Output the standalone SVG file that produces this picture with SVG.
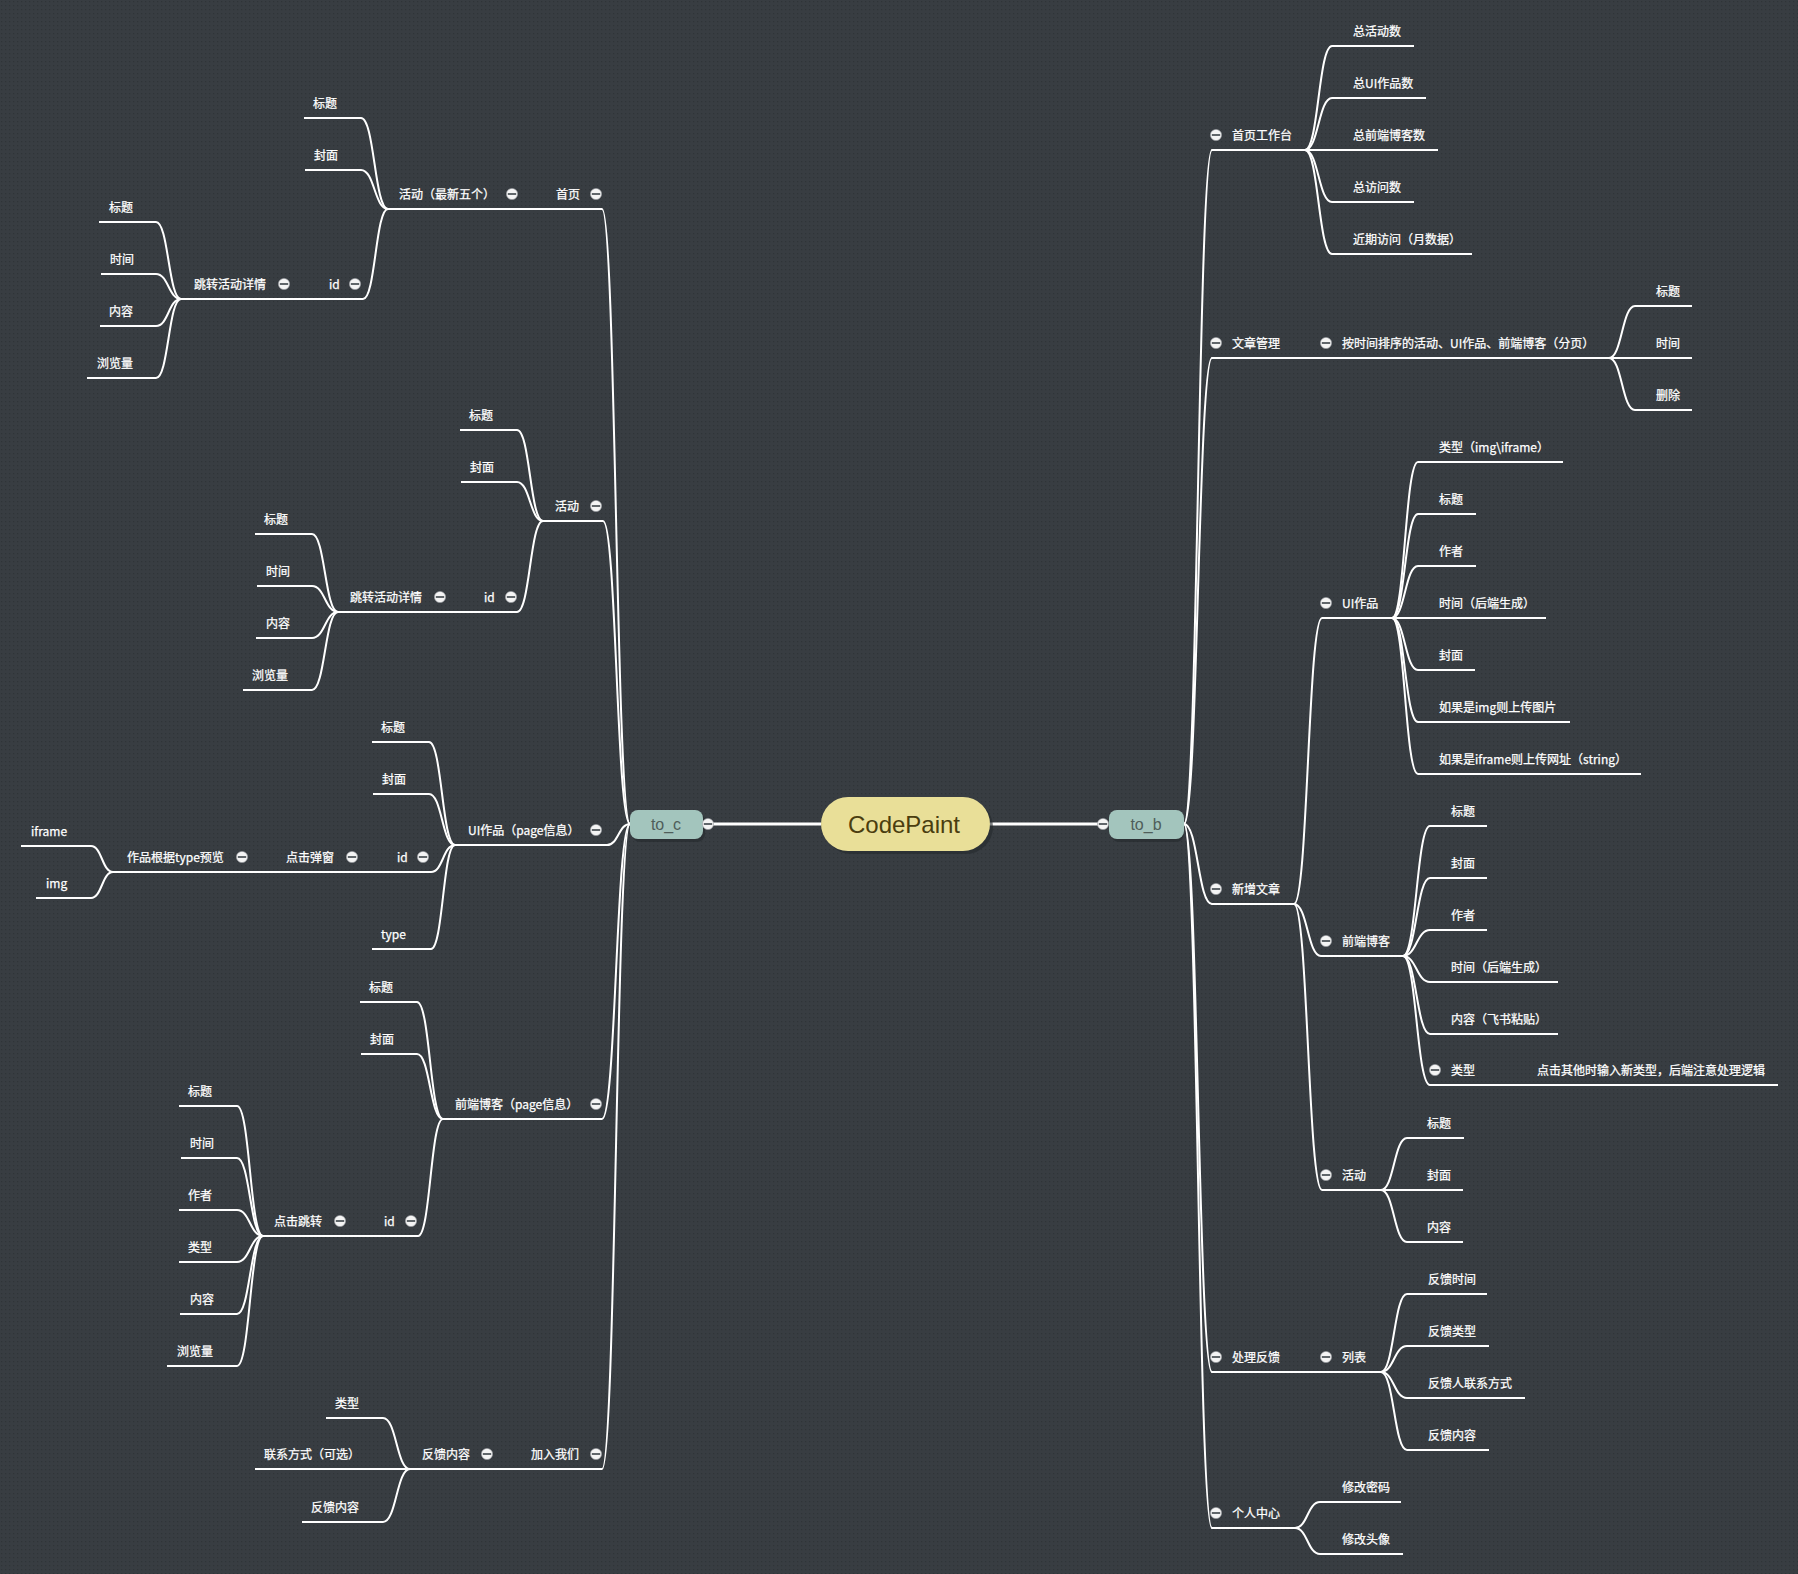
<svg xmlns="http://www.w3.org/2000/svg" xmlns:xlink="http://www.w3.org/1999/xlink" width="1798" height="1574" viewBox="0 0 1798 1574">
<defs>
<pattern id="dots" width="4" height="4" patternUnits="userSpaceOnUse">
<rect width="4" height="4" fill="#383d42"/>
<rect x="1" y="1" width="1.3" height="1.3" fill="#2f3438"/>
</pattern>
<g id="mn"><circle r="5.6" fill="#f4f4f4" stroke="#9a9ea2" stroke-width="0.6"/><line x1="-4.2" y1="0" x2="4.2" y2="0" stroke="#50565b" stroke-width="1.8"/></g>
<style>
.t{font-family:"Noto Sans CJK SC","Noto Sans",sans-serif;font-size:12px;fill:#ffffff;stroke:#ffffff;stroke-width:0.25}
.u{stroke:#ffffff;stroke-width:2;fill:none;stroke-linecap:butt}
.c{stroke:#ffffff;stroke-width:2;fill:none}
</style>
</defs>
<rect width="1798" height="1574" fill="url(#dots)"/>

<g id="connectors" class="c">
<path d="M708 824H821"  stroke-width="3"/>
<path d="M990 824H1103" stroke-width="3"/>
<path d="M630 824C616 824 616 209 602 209"/>
<path d="M630 824C616.5 824 616.5 521 603 521"/>
<path d="M630 824C618.5 824 618.5 845 607 845"/>
<path d="M630 824C616 824 616 1119 602 1119"/>
<path d="M630 824C616 824 616 1469 602 1469"/>
<path d="M388 209C374.5 209 374.5 118 361 118"/>
<path d="M388 209C374.5 209 374.5 170 361 170"/>
<path d="M388 209C375.5 209 375.5 299 363 299"/>
<path d="M181 299C168.5 299 168.5 222 156 222"/>
<path d="M181 299C168.5 299 168.5 274 156 274"/>
<path d="M181 299C168.5 299 168.5 326 156 326"/>
<path d="M181 299C168.5 299 168.5 378 156 378"/>
<path d="M543 521C530 521 530 430 517 430"/>
<path d="M543 521C530 521 530 482 517 482"/>
<path d="M543 521C530 521 530 612 517 612"/>
<path d="M338 612C325 612 325 534 312 534"/>
<path d="M338 612C325 612 325 586 312 586"/>
<path d="M338 612C325 612 325 638 312 638"/>
<path d="M338 612C325 612 325 690 312 690"/>
<path d="M455 845C442 845 442 742 429 742"/>
<path d="M455 845C442 845 442 794 429 794"/>
<path d="M455 845C443 845 443 872 431 872"/>
<path d="M455 845C443 845 443 949 431 949"/>
<path d="M113 872C102 872 102 846 91 846"/>
<path d="M113 872C102 872 102 898 91 898"/>
<path d="M443 1119C430 1119 430 1002 417 1002"/>
<path d="M443 1119C430 1119 430 1054 417 1054"/>
<path d="M443 1119C430.5 1119 430.5 1236 418 1236"/>
<path d="M263 1236C250 1236 250 1106 237 1106"/>
<path d="M263 1236C250 1236 250 1158 237 1158"/>
<path d="M263 1236C250 1236 250 1210 237 1210"/>
<path d="M263 1236C250 1236 250 1262 237 1262"/>
<path d="M263 1236C250 1236 250 1314 237 1314"/>
<path d="M263 1236C250 1236 250 1366 237 1366"/>
<path d="M410 1469C396.5 1469 396.5 1418 383 1418"/>
<path d="M410 1469C396.5 1469 396.5 1522 383 1522"/>
<path d="M1184 824C1198 824 1198 150 1212 150"/>
<path d="M1184 824C1198 824 1198 358 1212 358"/>
<path d="M1184 824C1198 824 1198 904 1212 904"/>
<path d="M1184 824C1198 824 1198 1372 1212 1372"/>
<path d="M1184 824C1198 824 1198 1528 1212 1528"/>
<path d="M1305 150C1318.5 150 1318.5 46 1332 46"/>
<path d="M1305 150C1318.5 150 1318.5 98 1332 98"/>
<path d="M1305 150C1318.5 150 1318.5 202 1332 202"/>
<path d="M1305 150C1318.5 150 1318.5 254 1332 254"/>
<path d="M1609 358C1622 358 1622 306 1635 306"/>
<path d="M1609 358C1622 358 1622 410 1635 410"/>
<path d="M1294 904C1308 904 1308 618 1322 618"/>
<path d="M1294 904C1307.5 904 1307.5 956 1321 956"/>
<path d="M1294 904C1308 904 1308 1190 1322 1190"/>
<path d="M1392 618C1405 618 1405 462 1418 462"/>
<path d="M1392 618C1405 618 1405 514 1418 514"/>
<path d="M1392 618C1405 618 1405 566 1418 566"/>
<path d="M1392 618C1405 618 1405 670 1418 670"/>
<path d="M1392 618C1405 618 1405 722 1418 722"/>
<path d="M1392 618C1405 618 1405 774 1418 774"/>
<path d="M1403 956C1416.5 956 1416.5 826 1430 826"/>
<path d="M1403 956C1416.5 956 1416.5 878 1430 878"/>
<path d="M1403 956C1416.5 956 1416.5 930 1430 930"/>
<path d="M1403 956C1416.5 956 1416.5 982 1430 982"/>
<path d="M1403 956C1416.5 956 1416.5 1034 1430 1034"/>
<path d="M1403 956C1416.5 956 1416.5 1085 1430 1085"/>
<path d="M1381 1190C1394 1190 1394 1138 1407 1138"/>
<path d="M1381 1190C1394 1190 1394 1242 1407 1242"/>
<path d="M1381 1372C1394 1372 1394 1294 1407 1294"/>
<path d="M1381 1372C1394 1372 1394 1346 1407 1346"/>
<path d="M1381 1372C1394 1372 1394 1398 1407 1398"/>
<path d="M1381 1372C1394 1372 1394 1450 1407 1450"/>
<path d="M1295 1528C1307.5 1528 1307.5 1502 1320 1502"/>
<path d="M1295 1528C1307.5 1528 1307.5 1554 1320 1554"/>
</g>

<g id="root">
<rect x="824" y="800" width="169" height="54" rx="27" fill="#24292d" opacity="0.6"/>
<rect x="821" y="797" width="169" height="54" rx="27" fill="#e9df98"/>
<text x="904" y="832.5" text-anchor="middle" font-family="Liberation Sans, Arial, sans-serif" font-size="24" fill="#4a3d0f">CodePaint</text>
</g>
<g id="to_c">
<rect x="632" y="813" width="73" height="29" rx="8" fill="#24292d" opacity="0.6"/>
<rect x="630" y="810" width="73" height="29" rx="8" fill="#a3c5bd"/>
<text x="666" y="829.5" text-anchor="middle" font-family="Liberation Sans, Arial, sans-serif" font-size="16" fill="#4f5e5a">to_c</text>
<use href="#mn" x="708" y="824"/>
</g>
<g id="to_b">
<rect x="1111" y="813" width="73" height="29" rx="8" fill="#24292d" opacity="0.6"/>
<rect x="1109" y="810" width="75" height="29" rx="8" fill="#a3c5bd"/>
<text x="1146" y="829.5" text-anchor="middle" font-family="Liberation Sans, Arial, sans-serif" font-size="16" fill="#4f5e5a">to_b</text>
<use href="#mn" x="1103" y="824"/>
</g>

<g id="n-shouye"><path class="u" d="M540 209H602"/><text class="t" x="556" y="199">首页</text><use href="#mn" x="596" y="194"/></g>
<g id="n-hd5"><path class="u" d="M388 209H540"/><text class="t" x="399" y="199">活动（最新五个）</text><use href="#mn" x="512" y="194"/></g>
<g id="n-hd5-bt"><path class="u" d="M304 118H361"/><text class="t" x="313" y="108">标题</text></g>
<g id="n-hd5-fm"><path class="u" d="M305 170H361"/><text class="t" x="314" y="160">封面</text></g>
<g id="n-hd5-id"><path class="u" d="M300 299H363"/><text class="t" x="329" y="289">id</text><use href="#mn" x="355" y="284"/></g>
<g id="n-hd5-tz"><path class="u" d="M181 299H300"/><text class="t" x="194" y="289">跳转活动详情</text><use href="#mn" x="284" y="284"/></g>
<g id="n-hd5-tz-1"><path class="u" d="M99 222H156"/><text class="t" x="109" y="212">标题</text></g>
<g id="n-hd5-tz-2"><path class="u" d="M101 274H156"/><text class="t" x="110" y="264">时间</text></g>
<g id="n-hd5-tz-3"><path class="u" d="M100 326H156"/><text class="t" x="109" y="316">内容</text></g>
<g id="n-hd5-tz-4"><path class="u" d="M87 378H156"/><text class="t" x="97" y="368">浏览量</text></g>

<g id="n-hd"><path class="u" d="M543 521H603"/><text class="t" x="555" y="511">活动</text><use href="#mn" x="596" y="506"/></g>
<g id="n-hd-bt"><path class="u" d="M460 430H517"/><text class="t" x="469" y="420">标题</text></g>
<g id="n-hd-fm"><path class="u" d="M461 482H517"/><text class="t" x="470" y="472">封面</text></g>
<g id="n-hd-id"><path class="u" d="M460 612H517"/><text class="t" x="484" y="602">id</text><use href="#mn" x="511" y="597"/></g>
<g id="n-hd-tz"><path class="u" d="M338 612H460"/><text class="t" x="350" y="602">跳转活动详情</text><use href="#mn" x="440" y="597"/></g>
<g id="n-hd-tz-1"><path class="u" d="M255 534H312"/><text class="t" x="264" y="524">标题</text></g>
<g id="n-hd-tz-2"><path class="u" d="M257 586H312"/><text class="t" x="266" y="576">时间</text></g>
<g id="n-hd-tz-3"><path class="u" d="M256 638H312"/><text class="t" x="266" y="628">内容</text></g>
<g id="n-hd-tz-4"><path class="u" d="M243 690H312"/><text class="t" x="252" y="680">浏览量</text></g>

<g id="n-ui"><path class="u" d="M455 845H607"/><text class="t" x="468" y="835">UI作品（page信息）</text><use href="#mn" x="596" y="830"/></g>
<g id="n-ui-bt"><path class="u" d="M372 742H429"/><text class="t" x="381" y="732">标题</text></g>
<g id="n-ui-fm"><path class="u" d="M373 794H429"/><text class="t" x="382" y="784">封面</text></g>
<g id="n-ui-id"><path class="u" d="M385 872H431"/><text class="t" x="397" y="862">id</text><use href="#mn" x="423" y="857"/></g>
<g id="n-ui-tc"><path class="u" d="M265 872H385"/><text class="t" x="286" y="862">点击弹窗</text><use href="#mn" x="352" y="857"/></g>
<g id="n-ui-yl"><path class="u" d="M113 872H265"/><text class="t" x="127" y="862">作品根据type预览</text><use href="#mn" x="242" y="857"/></g>
<g id="n-ui-iframe"><path class="u" d="M21 846H91"/><text class="t" x="31" y="836">iframe</text></g>
<g id="n-ui-img"><path class="u" d="M36 898H91"/><text class="t" x="46" y="888">img</text></g>
<g id="n-ui-type"><path class="u" d="M372 949H431"/><text class="t" x="381" y="939">type</text></g>

<g id="n-blog"><path class="u" d="M443 1119H602"/><text class="t" x="455" y="1109">前端博客（page信息）</text><use href="#mn" x="596" y="1104"/></g>
<g id="n-blog-bt"><path class="u" d="M360 1002H417"/><text class="t" x="369" y="992">标题</text></g>
<g id="n-blog-fm"><path class="u" d="M361 1054H417"/><text class="t" x="370" y="1044">封面</text></g>
<g id="n-blog-id"><path class="u" d="M370 1236H418"/><text class="t" x="384" y="1226">id</text><use href="#mn" x="411" y="1221"/></g>
<g id="n-blog-tz"><path class="u" d="M263 1236H370"/><text class="t" x="274" y="1226">点击跳转</text><use href="#mn" x="340" y="1221"/></g>
<g id="n-blog-tz-1"><path class="u" d="M179 1106H237"/><text class="t" x="188" y="1096">标题</text></g>
<g id="n-blog-tz-2"><path class="u" d="M181 1158H237"/><text class="t" x="190" y="1148">时间</text></g>
<g id="n-blog-tz-3"><path class="u" d="M179 1210H237"/><text class="t" x="188" y="1200">作者</text></g>
<g id="n-blog-tz-4"><path class="u" d="M179 1262H237"/><text class="t" x="188" y="1252">类型</text></g>
<g id="n-blog-tz-5"><path class="u" d="M180 1314H237"/><text class="t" x="190" y="1304">内容</text></g>
<g id="n-blog-tz-6"><path class="u" d="M167 1366H237"/><text class="t" x="177" y="1356">浏览量</text></g>

<g id="n-join"><path class="u" d="M505 1469H602"/><text class="t" x="531" y="1459">加入我们</text><use href="#mn" x="596" y="1454"/></g>
<g id="n-join-fk"><path class="u" d="M410 1469H505"/><text class="t" x="422" y="1459">反馈内容</text><use href="#mn" x="487" y="1454"/></g>
<g id="n-join-lx"><path class="u" d="M255 1469H410"/><text class="t" x="264" y="1459">联系方式（可选）</text></g>
<g id="n-join-lb"><path class="u" d="M326 1418H383"/><text class="t" x="335" y="1408">类型</text></g>
<g id="n-join-nr"><path class="u" d="M302 1522H383"/><text class="t" x="311" y="1512">反馈内容</text></g>

<g id="n-gzt"><path class="u" d="M1211.5 150H1305"/><use href="#mn" x="1216" y="135"/><text class="t" x="1232" y="140">首页工作台</text></g>
<g id="n-gzt-1"><path class="u" d="M1332 46H1414"/><text class="t" x="1353" y="36">总活动数</text></g>
<g id="n-gzt-2"><path class="u" d="M1332 98H1426"/><text class="t" x="1353" y="88">总UI作品数</text></g>
<g id="n-gzt-3"><path class="u" d="M1305 150H1438"/><text class="t" x="1353" y="140">总前端博客数</text></g>
<g id="n-gzt-4"><path class="u" d="M1332 202H1414"/><text class="t" x="1353" y="192">总访问数</text></g>
<g id="n-gzt-5"><path class="u" d="M1332 254H1472"/><text class="t" x="1353" y="244">近期访问（月数据）</text></g>

<g id="n-wz"><path class="u" d="M1211.5 358H1310"/><use href="#mn" x="1216" y="343"/><text class="t" x="1232" y="348">文章管理</text></g>
<g id="n-wz-px"><path class="u" d="M1310 358H1609"/><use href="#mn" x="1326" y="343"/><text class="t" x="1342" y="348">按时间排序的活动、UI作品、前端博客（分页）</text></g>
<g id="n-wz-1"><path class="u" d="M1635 306H1692"/><text class="t" x="1656" y="296">标题</text></g>
<g id="n-wz-2"><path class="u" d="M1609 358H1692"/><text class="t" x="1656" y="348">时间</text></g>
<g id="n-wz-3"><path class="u" d="M1635 410H1692"/><text class="t" x="1656" y="400">删除</text></g>

<g id="n-xz"><path class="u" d="M1211.5 904H1294"/><use href="#mn" x="1216" y="889"/><text class="t" x="1232" y="894">新增文章</text></g>
<g id="n-xz-ui"><path class="u" d="M1322 618H1392"/><use href="#mn" x="1326" y="603"/><text class="t" x="1342" y="608">UI作品</text></g>
<g id="n-xz-ui-1"><path class="u" d="M1418 462H1563"/><text class="t" x="1439" y="452">类型（img\iframe）</text></g>
<g id="n-xz-ui-2"><path class="u" d="M1418 514H1476"/><text class="t" x="1439" y="504">标题</text></g>
<g id="n-xz-ui-3"><path class="u" d="M1418 566H1476"/><text class="t" x="1439" y="556">作者</text></g>
<g id="n-xz-ui-4"><path class="u" d="M1392 618H1546"/><text class="t" x="1439" y="608">时间（后端生成）</text></g>
<g id="n-xz-ui-5"><path class="u" d="M1418 670H1475"/><text class="t" x="1439" y="660">封面</text></g>
<g id="n-xz-ui-6"><path class="u" d="M1418 722H1570"/><text class="t" x="1439" y="712">如果是img则上传图片</text></g>
<g id="n-xz-ui-7"><path class="u" d="M1418 774H1641"/><text class="t" x="1439" y="764">如果是iframe则上传网址（string）</text></g>
<g id="n-xz-blog"><path class="u" d="M1321 956H1403"/><use href="#mn" x="1326" y="941"/><text class="t" x="1342" y="946">前端博客</text></g>
<g id="n-xz-blog-1"><path class="u" d="M1430 826H1487"/><text class="t" x="1451" y="816">标题</text></g>
<g id="n-xz-blog-2"><path class="u" d="M1430 878H1487"/><text class="t" x="1451" y="868">封面</text></g>
<g id="n-xz-blog-3"><path class="u" d="M1430 930H1487"/><text class="t" x="1451" y="920">作者</text></g>
<g id="n-xz-blog-4"><path class="u" d="M1430 982H1558"/><text class="t" x="1451" y="972">时间（后端生成）</text></g>
<g id="n-xz-blog-5"><path class="u" d="M1430 1034H1558"/><text class="t" x="1451" y="1024">内容（飞书粘贴）</text></g>
<g id="n-xz-blog-6"><path class="u" d="M1430 1085H1517"/><use href="#mn" x="1435" y="1070"/><text class="t" x="1451" y="1075">类型</text></g>
<g id="n-xz-blog-6-1"><path class="u" d="M1517 1085H1778"/><text class="t" x="1537" y="1075">点击其他时输入新类型，后端注意处理逻辑</text></g>
<g id="n-xz-hd"><path class="u" d="M1322 1190H1381"/><use href="#mn" x="1326" y="1175"/><text class="t" x="1342" y="1180">活动</text></g>
<g id="n-xz-hd-1"><path class="u" d="M1407 1138H1464"/><text class="t" x="1427" y="1128">标题</text></g>
<g id="n-xz-hd-2"><path class="u" d="M1381 1190H1463"/><text class="t" x="1427" y="1180">封面</text></g>
<g id="n-xz-hd-3"><path class="u" d="M1407 1242H1463"/><text class="t" x="1427" y="1232">内容</text></g>

<g id="n-fk"><path class="u" d="M1211.5 1372H1310"/><use href="#mn" x="1216" y="1357"/><text class="t" x="1232" y="1362">处理反馈</text></g>
<g id="n-fk-lb"><path class="u" d="M1310 1372H1381"/><use href="#mn" x="1326" y="1357"/><text class="t" x="1342" y="1362">列表</text></g>
<g id="n-fk-1"><path class="u" d="M1407 1294H1487"/><text class="t" x="1428" y="1284">反馈时间</text></g>
<g id="n-fk-2"><path class="u" d="M1407 1346H1489"/><text class="t" x="1428" y="1336">反馈类型</text></g>
<g id="n-fk-3"><path class="u" d="M1407 1398H1525"/><text class="t" x="1428" y="1388">反馈人联系方式</text></g>
<g id="n-fk-4"><path class="u" d="M1407 1450H1489"/><text class="t" x="1428" y="1440">反馈内容</text></g>

<g id="n-gr"><path class="u" d="M1211.5 1528H1295"/><use href="#mn" x="1216" y="1513"/><text class="t" x="1232" y="1518">个人中心</text></g>
<g id="n-gr-1"><path class="u" d="M1320 1502H1401"/><text class="t" x="1342" y="1492">修改密码</text></g>
<g id="n-gr-2"><path class="u" d="M1320 1554H1403"/><text class="t" x="1342" y="1544">修改头像</text></g>
</svg>
